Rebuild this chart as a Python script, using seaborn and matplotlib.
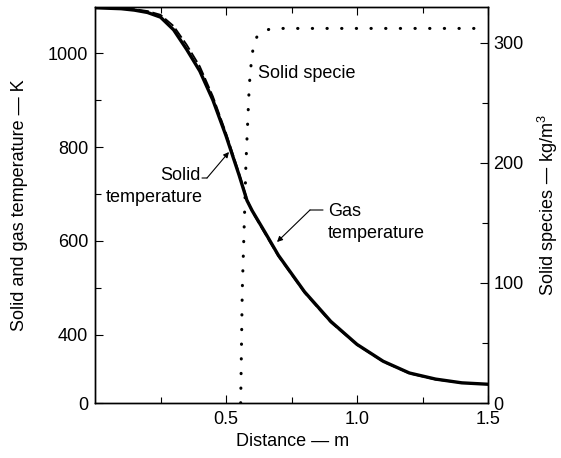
import numpy as np
import pandas as pd
import matplotlib
matplotlib.use("Agg")
import matplotlib.pyplot as plt
from matplotlib.ticker import FixedLocator
import seaborn as sns

# ---- data ----
distance = [0.0, 0.1, 0.15, 0.2, 0.25, 0.3, 0.35, 0.4, 0.45, 0.5, 0.55, 0.58,
            0.6, 0.65, 0.7, 0.8, 0.9, 1.0, 1.1, 1.2, 1.3, 1.4, 1.5]
solid_temperature = [1097, 1095, 1092, 1087, 1077, 1050, 1008, 962, 900, 824, 740, 686,
                     664, 617, 569, 491, 428, 379, 343, 318, 305, 297, 294]
gas_temperature = [1097, 1096, 1094, 1090, 1082, 1058, 1018, 972, 908, 830, 744, 689,
                   662, 614, 567, 489, 426, 378, 342, 317, 304, 297, 294]
species_distance = [0.556, 0.562, 0.5725, 0.576, 0.583, 0.589, 0.597, 0.605,
                    0.618, 0.641, 0.68, 1.5]
solid_species = [0, 93, 170, 199, 235, 265, 285, 298, 305, 310, 312, 312]

left_ticks = [254, 400, 600, 800, 1000]
left_ticklabels = ["0", "400", "600", "800", "1000"]
left_minor = [500, 700, 900]
right_ticks = [0, 100, 200, 300]
right_minor = [50, 150, 250]
x_ticks = [0.5, 1.0, 1.5]
x_ticklabels = ["0.5", "1.0", "1.5"]
x_minor = [0.25, 0.75, 1.25]

sns.set_theme(style="white")
plt.rcParams['font.family'] = ['Liberation Sans', 'DejaVu Sans']
plt.rcParams['mathtext.default'] = 'regular'

W, H = 561, 458
fig = plt.figure(figsize=(W / 100, H / 100), dpi=100)
ax = fig.add_axes([95 / W, 1 - 403 / H, (488 - 95) / W, (403 - 7.3) / H])
ax2 = ax.twinx()

temps = pd.DataFrame({"distance": distance,
                      "solid": solid_temperature,
                      "gas": gas_temperature})
species = pd.DataFrame({"distance": species_distance, "species": solid_species})

sns.lineplot(data=temps, x="distance", y="solid", ax=ax, color="black", lw=2.4)
sns.lineplot(data=temps, x="distance", y="gas", ax=ax, color="black", lw=1.3,
             linestyle=(0, (6, 2)))
sns.lineplot(data=species, x="distance", y="species", ax=ax2, color="black",
             lw=2.2, linestyle=(0, (0.1, 4.7)), dash_capstyle="round")

ax.set_xlim(0, 1.5)
ax.set_ylim(254, 1098)
ax2.set_ylim(0, 329.6)

ax.set_xticks(x_ticks)
ax.set_xticklabels(x_ticklabels)
ax.xaxis.set_minor_locator(FixedLocator(x_minor))
ax.set_yticks(left_ticks)
ax.set_yticklabels(left_ticklabels)
ax.yaxis.set_minor_locator(FixedLocator(left_minor))
ax2.set_yticks(right_ticks)
ax2.yaxis.set_minor_locator(FixedLocator(right_minor))

fs = 13
ax.tick_params(axis="both", which="major", direction="in", length=6, width=0.8,
               labelsize=fs, colors="black", top=True, bottom=True, left=True, pad=5)
ax.tick_params(axis="both", which="minor", direction="in", length=4, width=0.8,
               top=True, bottom=True, left=True, colors="black")
ax.tick_params(axis="x", which="major", pad=6)
ax2.tick_params(axis="y", which="major", direction="in", length=6, width=0.8,
                labelsize=fs, colors="black", pad=4)
ax2.tick_params(axis="y", which="minor", direction="in", length=4, width=0.8,
                colors="black")

for a in (ax, ax2):
    for s in a.spines.values():
        s.set_color("black")
        s.set_linewidth(1.0)

ax.set_xlabel("Distance — m", fontsize=fs, color="black")
ax.set_ylabel("Solid and gas temperature — K", fontsize=fs, color="black")
ax2.set_ylabel("Solid species — kg/m$^3$", fontsize=fs, color="black")
axw, axh = 488 - 95, 403 - 7.3
ax.xaxis.set_label_coords((293 - 95) / axw, (403 - 442) / axh)
ax.yaxis.set_label_coords((20 - 95) / axw, 0.5)
ax2.yaxis.set_label_coords((548 - 95) / axw, 0.5)
ax.xaxis.label.set_va("center")
ax.yaxis.label.set_va("center")
ax2.yaxis.label.set_va("center")


def px(x, y):
    return (x, H - y)


tkw = dict(xycoords="figure pixels", fontsize=fs, color="black", va="center")
ax.annotate("Solid specie", xy=px(258, 73), ha="left", **tkw)
ax.annotate("Solid", xy=px(201, 176), ha="right", **tkw)
ax.annotate("temperature", xy=px(106, 197), ha="left", **tkw)
ax.annotate("Gas", xy=px(328, 212), ha="left", **tkw)
ax.annotate("temperature", xy=px(328, 233), ha="left", **tkw)

akw = dict(arrowstyle="-|>", color="black", lw=0.8, mutation_scale=8,
           shrinkA=0, shrinkB=0)
lkw = dict(arrowstyle="-", color="black", lw=0.8, shrinkA=0, shrinkB=0)
# Solid temperature leader
ax.annotate("", xy=px(207, 178), xytext=px(202, 178), xycoords="figure pixels",
            textcoords="figure pixels", arrowprops=lkw)
ax.annotate("", xy=px(229, 152), xytext=px(207, 178), xycoords="figure pixels",
            textcoords="figure pixels", arrowprops=akw)
# Gas temperature leader
ax.annotate("", xy=px(310, 210), xytext=px(323, 210), xycoords="figure pixels",
            textcoords="figure pixels", arrowprops=lkw)
ax.annotate("", xy=px(277, 242), xytext=px(310, 210), xycoords="figure pixels",
            textcoords="figure pixels", arrowprops=akw)

fig.savefig("out.png", dpi=100)
